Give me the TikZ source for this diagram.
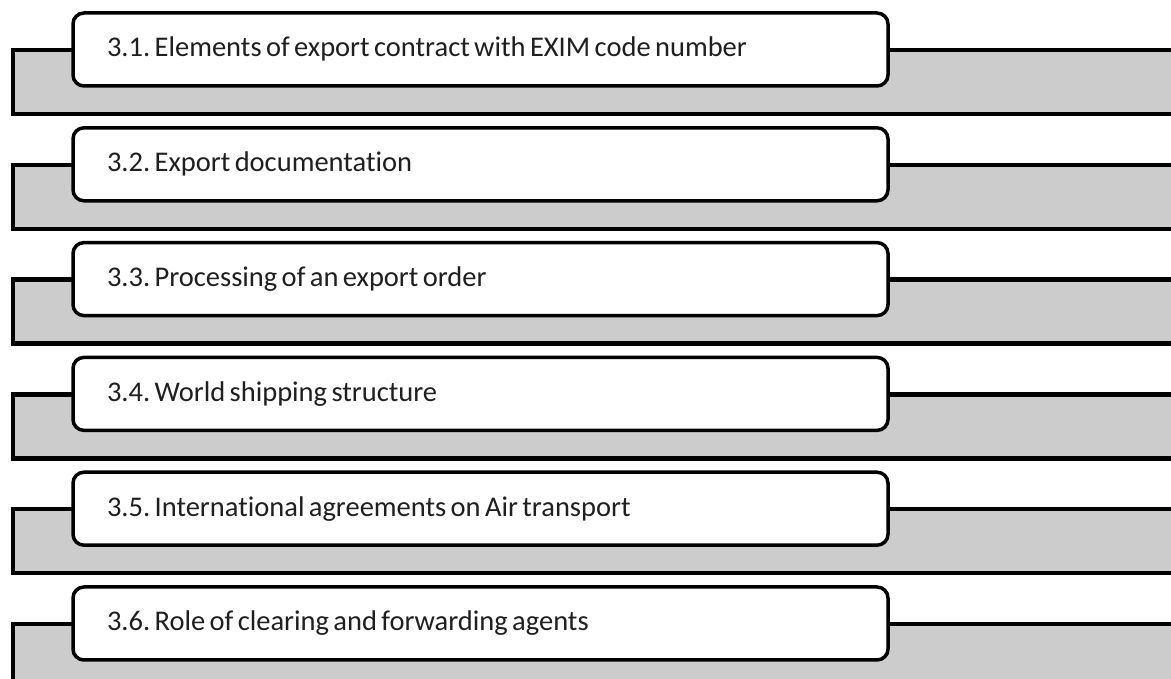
\documentclass[tikz,border=0pt]{standalone}
\usepackage{fontspec}
\setmainfont{Carlito}[Ligatures=NoCommon]
\newcommand\tightsp{\spaceskip=4.4pt plus 1pt\relax}
\begin{document}
\frenchspacing
\begin{tikzpicture}[x=1pt,y=1pt,
  band/.style={fill=bandgray,draw=black,line width=4.5pt},
  itembox/.style={draw=black,fill=white,line width=3.5pt,rounded corners=11pt,
    minimum width=815pt,minimum height=73pt,inner xsep=34pt,inner ysep=0pt,
    text width=747pt,align=left,text height=20pt,text depth=5pt,
    font=\fontsize{28.5}{31}\selectfont,text=black!88}]
\definecolor{bandgray}{HTML}{CCCCCC}
\useasboundingbox (0,0) rectangle (1171,679);
\clip (0,0) rectangle (1171,679);
\foreach \i/\t in {0/{3.1. Elements of export contract with EXIM code number},
                   1/{3.2. Export documentation},
                   2/{3.3. Processing of an export order},
                   3/{3.4. World shipping structure},
                   4/{3.5. International agreements on Air transport},
                   5/{3.6. Role of clearing and forwarding agents}}{
  \pgfmathsetmacro{\d}{\i*114.8}
  \draw[band] (1190,679-50-\d) -- (13,679-50-\d) -- (13,679-114-\d) -- (1190,679-114-\d);
  \node[itembox] (b\i) at (480.5,679-49.5-\d) {\tightsp\t};
}
\end{tikzpicture}
\end{document}
